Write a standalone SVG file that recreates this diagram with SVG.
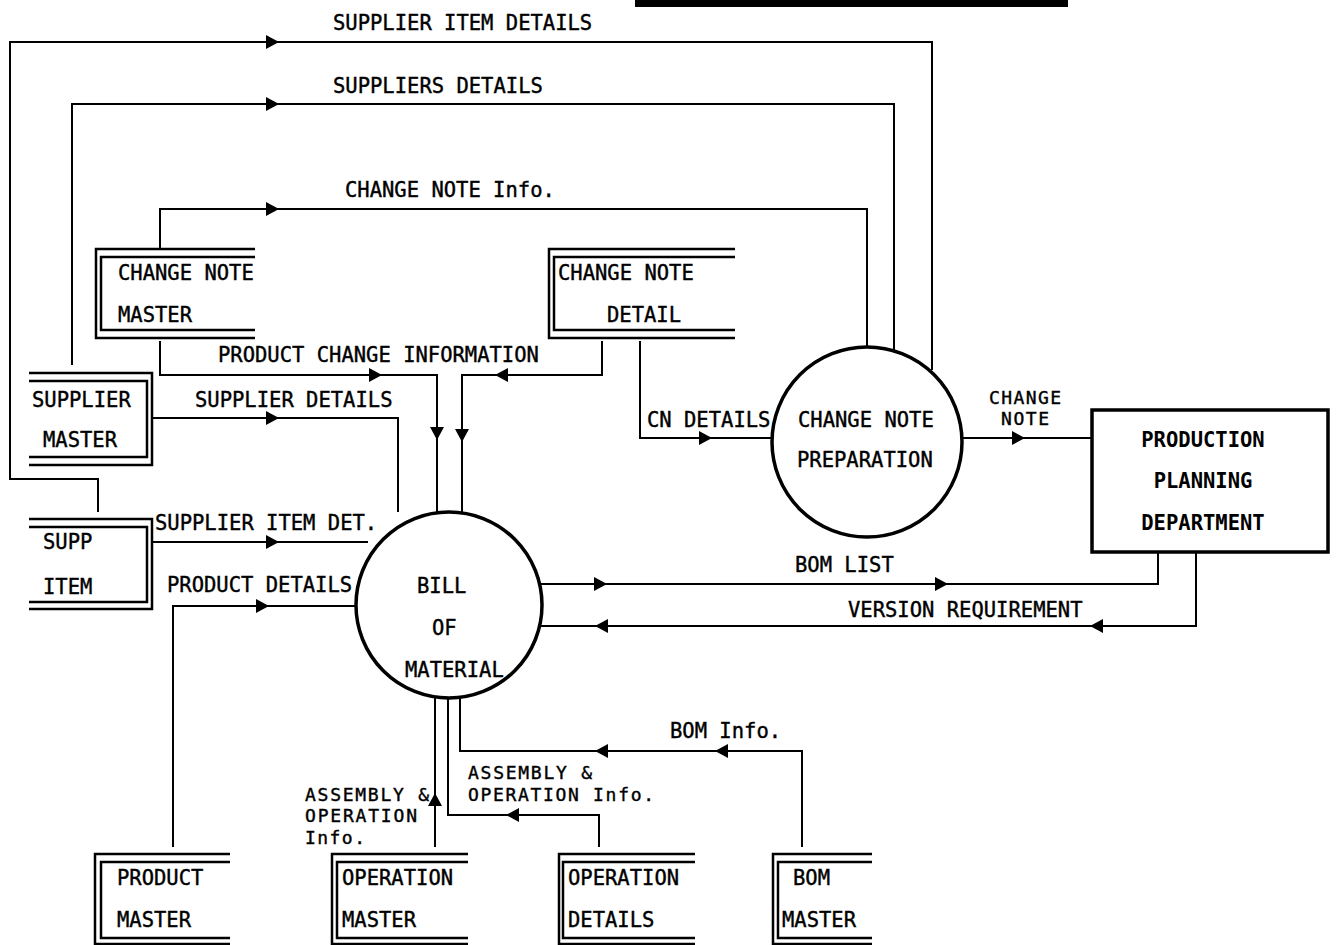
<svg xmlns="http://www.w3.org/2000/svg" xmlns:xlink="http://www.w3.org/1999/xlink" width="1337" height="945" viewBox="0 0 1337 945">
<style>
.bg{fill:#fff}
.t{font-family:"DejaVu Sans Mono","Liberation Mono",monospace;font-size:20.5px;fill:#000;stroke:#000;stroke-width:0.4}
.ts{font-family:"DejaVu Sans Mono","Liberation Mono",monospace;font-size:18px;fill:#000;stroke:#000;stroke-width:0.4}
.tb{font-family:"DejaVu Sans Mono","Liberation Mono",monospace;font-size:20.5px;font-weight:bold;fill:#000}
.c{fill:none;stroke:#000;stroke-width:2}
.st{fill:none;stroke:#000;stroke-width:2.5}
.proc{fill:none;stroke:#000;stroke-width:3.5}
.ah{fill:#000}
</style>
<defs>
<path id="ah" class="ah" d="M-6,-7 L7,0 L-6,7 Z"/>
</defs>
<rect class="bg" x="0" y="0" width="1337" height="945"/>
<rect x="635" y="0" width="433" height="7" fill="#000"/>

<g id="connectors">
<path class="c" d="M98,512 V479 H10 V42 H932 V370"/>
<path class="c" d="M72,365 V104 H894 V350"/>
<path class="c" d="M160,249 V209 H867 V347"/>
<path class="c" d="M160,341 V375 H437 V513"/>
<path class="c" d="M602,341 V375 H462 V513"/>
<path class="c" d="M152,418 H398 V512"/>
<path class="c" d="M152,542 H368"/>
<path class="c" d="M173,847 V606 H356"/>
<path class="c" d="M640,341 V438 H773"/>
<path class="c" d="M962,438 H1092"/>
<path class="c" d="M541,584 H1158 V552"/>
<path class="c" d="M1196,552 V626 H541"/>
<path class="c" d="M435,847 V697"/>
<path class="c" d="M599,847 V815 H448 V698"/>
<path class="c" d="M802,847 V751 H460 V698"/>
<use xlink:href="#ah" transform="translate(272,42)"/>
<use xlink:href="#ah" transform="translate(272,104)"/>
<use xlink:href="#ah" transform="translate(272,209)"/>
<use xlink:href="#ah" transform="translate(375,375)"/>
<use xlink:href="#ah" transform="translate(437,433) rotate(90)"/>
<use xlink:href="#ah" transform="translate(502,375) rotate(180)"/>
<use xlink:href="#ah" transform="translate(462,435) rotate(90)"/>
<use xlink:href="#ah" transform="translate(272,418)"/>
<use xlink:href="#ah" transform="translate(272,542)"/>
<use xlink:href="#ah" transform="translate(262,606)"/>
<use xlink:href="#ah" transform="translate(705,438)"/>
<use xlink:href="#ah" transform="translate(1018,438)"/>
<use xlink:href="#ah" transform="translate(600,584)"/>
<use xlink:href="#ah" transform="translate(941,584)"/>
<use xlink:href="#ah" transform="translate(1097,626) rotate(180)"/>
<use xlink:href="#ah" transform="translate(602,626) rotate(180)"/>
<use xlink:href="#ah" transform="translate(435,800) rotate(-90)"/>
<use xlink:href="#ah" transform="translate(513,815) rotate(180)"/>
<use xlink:href="#ah" transform="translate(602,751) rotate(180)"/>
<use xlink:href="#ah" transform="translate(722,751) rotate(180)"/>
<text class="t" x="333" y="30">SUPPLIER ITEM DETAILS</text>
<text class="t" x="333" y="93">SUPPLIERS DETAILS</text>
<text class="t" x="345" y="197">CHANGE NOTE Info.</text>
<text class="t" x="218" y="362">PRODUCT CHANGE INFORMATION</text>
<text class="t" x="195" y="407">SUPPLIER DETAILS</text>
<text class="t" x="155" y="530">SUPPLIER ITEM DET.</text>
<text class="t" x="167" y="592">PRODUCT DETAILS</text>
<text class="t" x="647" y="427">CN DETAILS</text>
<text class="ts" x="1025" y="404" text-anchor="middle" textLength="72">CHANGE</text>
<text class="ts" x="1025" y="425" text-anchor="middle" textLength="48">NOTE</text>
<text class="t" x="795" y="572">BOM LIST</text>
<text class="t" x="848" y="617">VERSION REQUIREMENT</text>
<text class="ts" x="305" y="801" textLength="124">ASSEMBLY &amp;</text>
<text class="ts" x="305" y="822" textLength="112">OPERATION</text>
<text class="ts" x="305" y="844" textLength="60">Info.</text>
<text class="ts" x="468" y="779" textLength="124">ASSEMBLY &amp;</text>
<text class="ts" x="468" y="801" textLength="186">OPERATION Info.</text>
<text class="t" x="670" y="738">BOM Info.</text>
</g>

<g id="change-note-master">
<path class="st" d="M255,249 H96 V338 H255"/>
<path class="st" d="M255,257 H101 V330 H255"/>
<text class="t" x="118" y="280">CHANGE NOTE</text>
<text class="t" x="118" y="322">MASTER</text>
</g>
<g id="change-note-detail">
<path class="st" d="M735,249 H549 V338 H735"/>
<path class="st" d="M735,257 H554 V330 H735"/>
<text class="t" x="558" y="280">CHANGE NOTE</text>
<text class="t" x="607" y="322">DETAIL</text>
</g>
<g id="supplier-master">
<path class="st" d="M29,373 H152 V465 H29"/>
<path class="st" d="M29,381 H147 V457 H29"/>
<text class="t" x="32" y="407">SUPPLIER</text>
<text class="t" x="43" y="447">MASTER</text>
</g>
<g id="supp-item">
<path class="st" d="M29,519 H152 V609 H29"/>
<path class="st" d="M29,527 H147 V602 H29"/>
<text class="t" x="43" y="549">SUPP</text>
<text class="t" x="43" y="594">ITEM</text>
</g>
<g id="bill-of-material">
<circle class="proc" cx="449" cy="605" r="93"/>
<text class="t" x="417" y="593">BILL</text>
<text class="t" x="432" y="635">OF</text>
<text class="t" x="405" y="677">MATERIAL</text>
</g>
<g id="change-note-preparation">
<circle class="proc" cx="867" cy="442" r="95"/>
<text class="t" x="798" y="427">CHANGE NOTE</text>
<text class="t" x="797" y="467">PREPARATION</text>
</g>
<g id="production-planning-department">
<rect class="proc" x="1092" y="410" width="236" height="142"/>
<text class="tb" x="1203" y="447" text-anchor="middle">PRODUCTION</text>
<text class="tb" x="1203" y="488" text-anchor="middle">PLANNING</text>
<text class="tb" x="1203" y="530" text-anchor="middle">DEPARTMENT</text>
</g>
<g id="product-master">
<path class="st" d="M230,854 H95 V944 H230"/>
<path class="st" d="M230,862 H101 V938 H230"/>
<text class="t" x="117" y="885">PRODUCT</text>
<text class="t" x="117" y="927">MASTER</text>
</g>
<g id="operation-master">
<path class="st" d="M468,854 H332 V944 H468"/>
<path class="st" d="M468,862 H337 V938 H468"/>
<text class="t" x="342" y="885">OPERATION</text>
<text class="t" x="342" y="927">MASTER</text>
</g>
<g id="operation-details">
<path class="st" d="M695,854 H559 V944 H695"/>
<path class="st" d="M695,862 H563 V938 H695"/>
<text class="t" x="568" y="885">OPERATION</text>
<text class="t" x="568" y="927">DETAILS</text>
</g>
<g id="bom-master">
<path class="st" d="M872,854 H773 V944 H872"/>
<path class="st" d="M872,862 H778 V938 H872"/>
<text class="t" x="793" y="885">BOM</text>
<text class="t" x="782" y="927">MASTER</text>
</g>
</svg>
